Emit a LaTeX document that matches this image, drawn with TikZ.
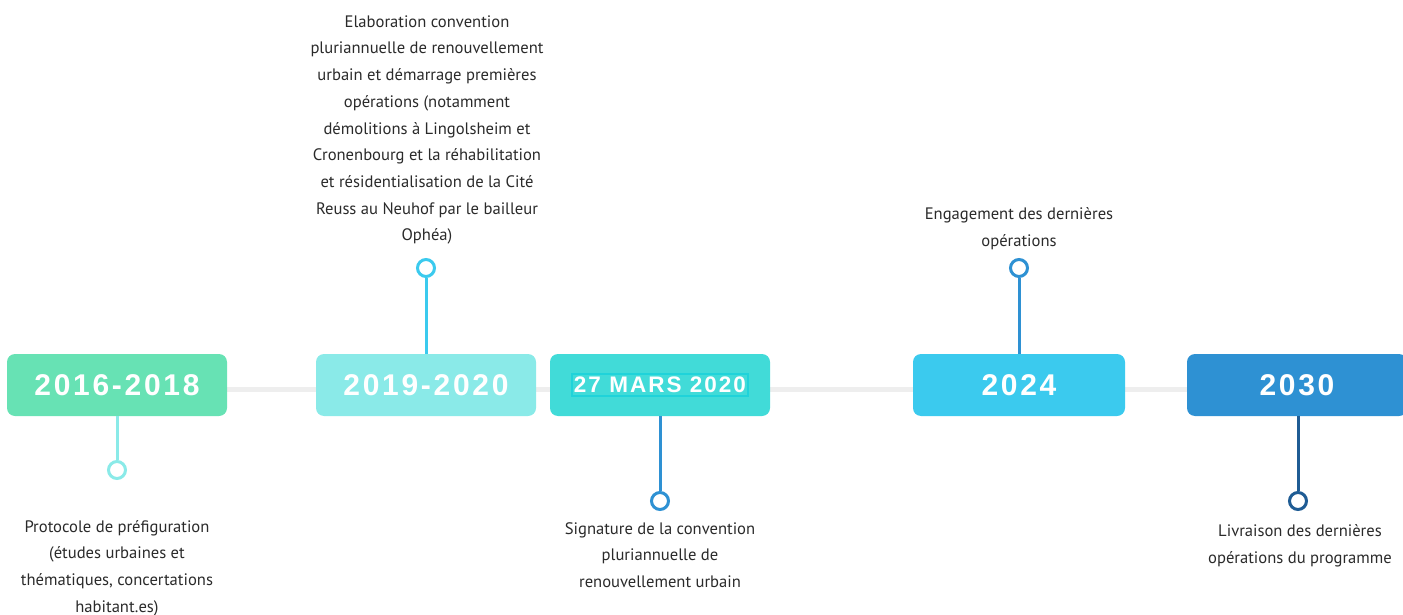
\documentclass[tikz,border=0pt]{standalone}
\usepackage{fontspec}
\setmainfont{PT Sans}
\newfontfamily\yearfont[LetterSpace=9]{Liberation Sans}
\usetikzlibrary{backgrounds}

\definecolor{mint}{HTML}{67E2B4}
\definecolor{paleaqua}{HTML}{8AEAE8}
\definecolor{turquoise}{HTML}{41DBD8}
\definecolor{marsline}{HTML}{1FD3DA}
\definecolor{skyblue}{HTML}{3BCAEE}
\definecolor{oceanblue}{HTML}{2E91D3}
\definecolor{navyblue}{HTML}{1F5C94}
\definecolor{trackgray}{HTML}{EEEEEE}
\definecolor{textgray}{HTML}{2A2A2A}

\tikzset{
    yearbox/.style={rounded corners=8pt, minimum width=220pt, minimum height=62pt,
        inner sep=0pt, text=white, font=\yearfont\bfseries\fontsize{30}{32}\selectfont},
    marslabel/.style={draw=marsline, line width=1.5pt, inner xsep=2pt, inner ysep=3pt, text=white,
        font=\yearfont\bfseries\fontsize{22.5}{24}\selectfont},
    pin/.style={circle, draw, fill=white, line width=3pt, minimum size=17pt, inner sep=0pt},
    stem/.style={line width=3pt},
    note/.style={align=center, text=textgray, font=\fontsize{16.6}{26.7}\selectfont}
}

\begin{document}
\begin{tikzpicture}[x=1pt,y=-1pt]
    \useasboundingbox (0,0) rectangle (1403,615);

    % Defining the year boxes
    \node[yearbox, fill=mint] (y2016) at (117,385) {2016-2018};
    \node[yearbox, fill=paleaqua] (y2019) at (426,385) {2019-2020};
    \node[yearbox, fill=turquoise] (mars2020) at (660,385) {};
    \node[marslabel] (marstext) at (mars2020) {27 MARS 2020};
    \node[yearbox, fill=skyblue, minimum width=212pt] (y2024) at (1019,385) {2024};
    \node[yearbox, fill=oceanblue] (y2030) at (1297,385) {2030};

    % Track behind the boxes
    \begin{scope}[on background layer]
        \draw[trackgray, line width=5pt] (y2016.east |- 0,389) -- (y2030.west |- 0,389);
    \end{scope}

    % Pins
    \node[pin, draw=paleaqua] (pin2016) at (117,470) {};
    \node[pin, draw=skyblue] (pin2019) at (426,268) {};
    \node[pin, draw=oceanblue] (pinmars) at (660,501) {};
    \node[pin, draw=oceanblue] (pin2024) at (1019,268) {};
    \node[pin, draw=navyblue] (pin2030) at (1298,501) {};

    \draw[stem, paleaqua] (y2016.south) -- (pin2016);
    \draw[stem, skyblue] (y2019.north) -- (pin2019);
    \draw[stem, oceanblue] (mars2020.south) -- (pinmars);
    \draw[stem, oceanblue] (y2024.north) -- (pin2024);
    \draw[stem, navyblue] (y2030.south -| pin2030) -- (pin2030);

    % Notes
    \node[note] (note2019) at (427,130) {Elaboration convention\\pluriannuelle de renouvellement\\urbain et démarrage premières\\opérations (notamment\\démolitions à Lingolsheim et\\Cronenbourg et la réhabilitation\\et résidentialisation de la Cité\\Reuss au Neuhof par le bailleur\\Ophéa)};
    \node[note] (note2024) at (1019,229) {Engagement des dernières\\opérations};
    \node[note] (note2016) at (117,568) {Protocole de préfiguration\\(études urbaines et\\thématiques, concertations\\habitant.es)};
    \node[note] (notemars) at (660,555) {Signature de la convention\\pluriannuelle de\\renouvellement urbain};
    \node[note] (note2030) at (1300,546) {Livraison des dernières\\opérations du programme};
\end{tikzpicture}
\end{document}
